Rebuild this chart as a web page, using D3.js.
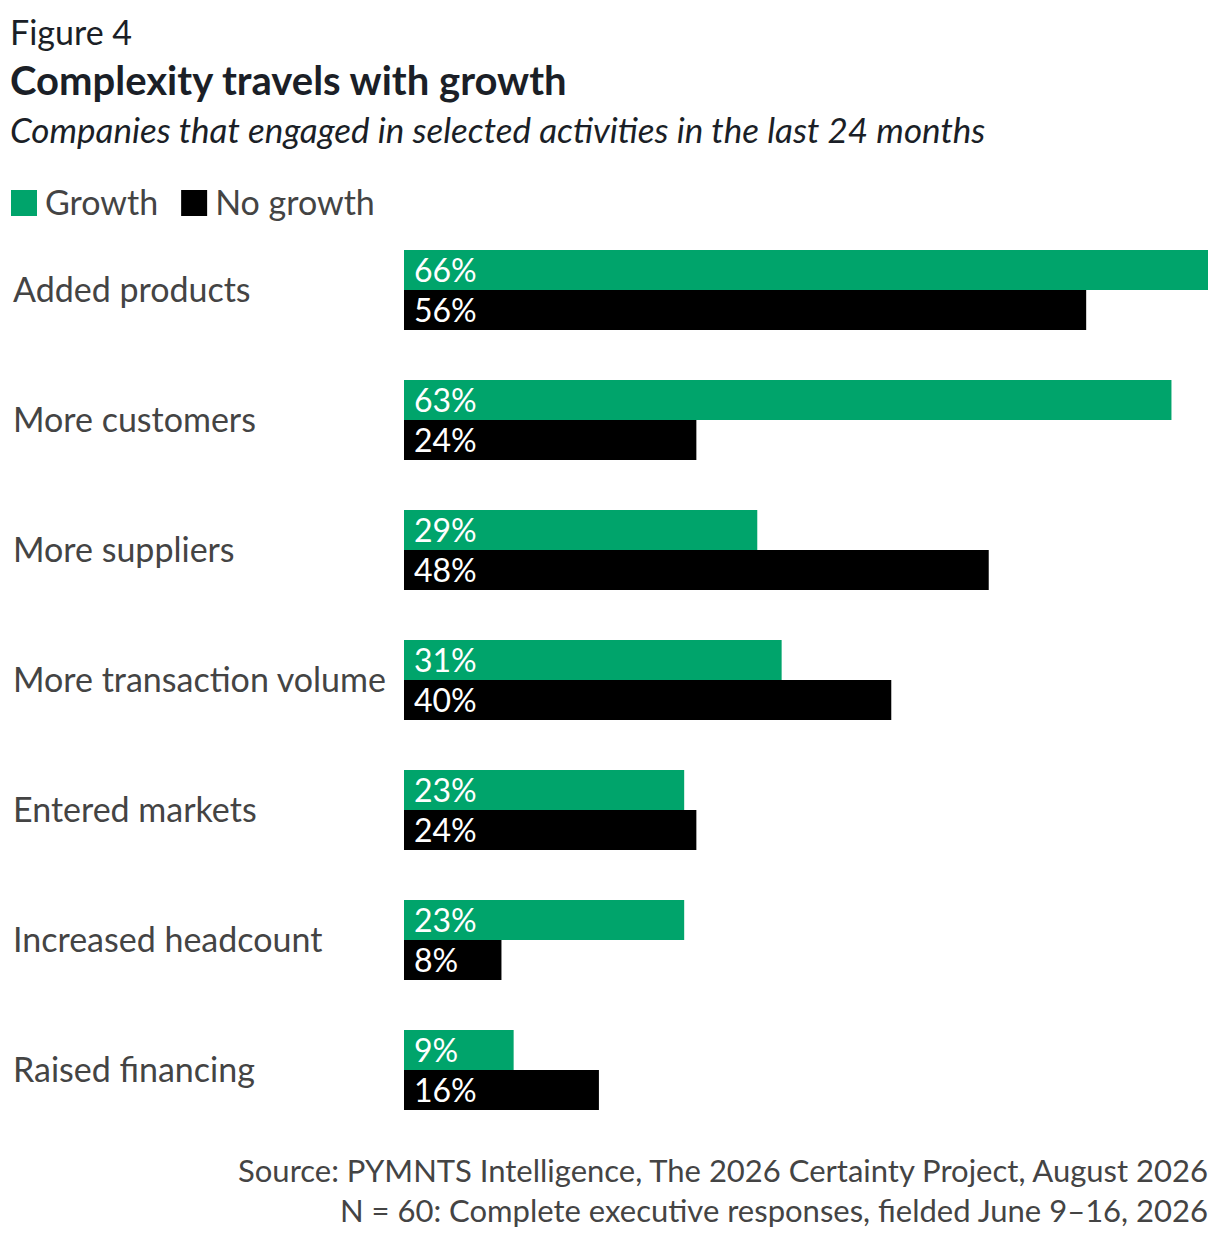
<!DOCTYPE html>
<html>
<head>
<meta charset="utf-8">
<script src="https://cdn.jsdelivr.net/npm/d3@7"></script>
<style>
  body { margin: 0; background: #fff; }
  svg { display: block; font-family: Lato, "Open Sans", sans-serif; }
</style>
</head>
<body>
<svg id="chart" width="1220" height="1238"></svg>
<script>
const categories = [
  "Added products",
  "More customers",
  "More suppliers",
  "More transaction volume",
  "Entered markets",
  "Increased headcount",
  "Raised financing"
];
const seriesNames = ["Growth", "No growth"];
const growth = [66, 63, 29, 31, 23, 23, 9];
const noGrowth = [56, 24, 48, 40, 24, 8, 16];
const seriesColors = ["#00a46b", "#000000"];

const svg = d3.select("#chart");

// headings
svg.append("text")
  .attr("x", 10).attr("y", 45)
  .style("font-size", "34px").style("fill", "#1b1f27")
  .text("Figure 4");

svg.append("text")
  .attr("x", 10).attr("y", 95)
  .style("font-size", "40px").style("font-weight", "bold").style("fill", "#1b1f27")
  .text("Complexity travels with growth");

svg.append("text")
  .attr("x", 10).attr("y", 143)
  .style("font-size", "35px").style("font-style", "italic").style("fill", "#1b1f27")
  .text("Companies that engaged in selected activities in the last 24 months");

// legend
const legend = svg.append("g").attr("transform", "translate(11, 190)");
let lx = 0;
seriesNames.forEach((name, i) => {
  const item = legend.append("g").attr("transform", `translate(${lx}, 0)`);
  item.append("rect").attr("width", 26).attr("height", 26).attr("fill", seriesColors[i]);
  const t = item.append("text")
    .attr("x", 34).attr("y", 25)
    .style("font-size", "34px").style("fill", "#444")
    .text(name);
  lx += 34 + t.node().getComputedTextLength() + 23;
});

// scales
const x = d3.scaleLinear().domain([0, 66]).range([404, 1208]);
const y = d3.scaleBand().domain(categories).range([250, 1110]).paddingInner(50 / 130);
const ySub = d3.scaleBand().domain(seriesNames).range([0, y.bandwidth()]);

const rows = categories.map((c, i) => ({
  category: c,
  values: [
    { series: "Growth", value: growth[i] },
    { series: "No growth", value: noGrowth[i] }
  ]
}));

const group = svg.selectAll(".row")
  .data(rows)
  .enter()
  .append("g")
  .attr("class", "row")
  .attr("transform", (d) => `translate(0, ${y(d.category)})`);

group.append("text")
  .attr("x", 13)
  .attr("y", y.bandwidth() / 2 + 12)
  .style("font-size", "34px").style("fill", "#444")
  .text((d) => d.category);

const bars = group.selectAll(".bar")
  .data((d) => d.values)
  .enter()
  .append("g")
  .attr("class", "bar");

bars.append("rect")
  .attr("x", x(0))
  .attr("y", (d) => ySub(d.series))
  .attr("width", (d) => x(d.value) - x(0))
  .attr("height", ySub.bandwidth())
  .attr("fill", (d, i) => seriesColors[i]);

bars.append("text")
  .attr("x", x(0) + 10)
  .attr("y", (d) => ySub(d.series) + 32)
  .style("font-size", "32px").style("fill", "#fff")
  .text((d) => d.value + "%");

// footer
svg.append("text")
  .attr("x", 1208).attr("y", 1182)
  .attr("text-anchor", "end")
  .style("font-size", "31px").style("fill", "#444")
  .text("Source: PYMNTS Intelligence, The 2026 Certainty Project, August 2026");

svg.append("text")
  .attr("x", 1208).attr("y", 1222)
  .attr("text-anchor", "end")
  .style("font-size", "31px").style("fill", "#444")
  .text("N = 60: Complete executive responses, fielded June 9–16, 2026");
</script>
</body>
</html>
